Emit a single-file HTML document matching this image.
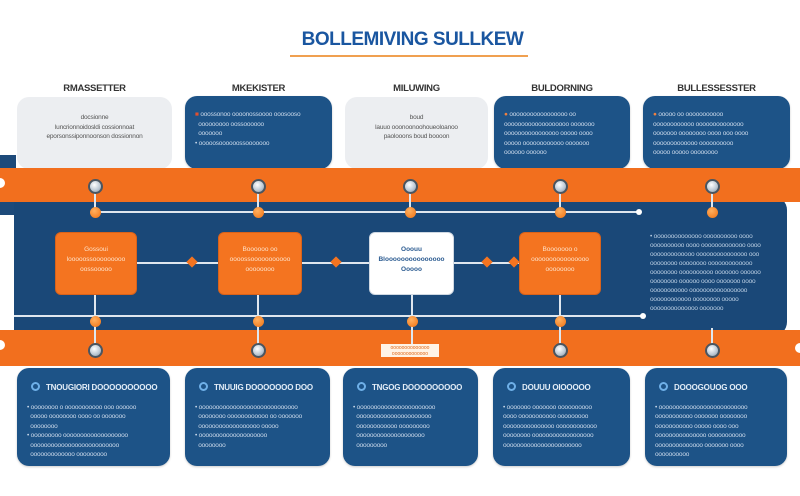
<!DOCTYPE html>
<html><head><meta charset="utf-8"><style>
*{margin:0;padding:0;box-sizing:border-box}
body{width:800px;height:496px;background:#fff;position:relative;overflow:hidden;font-family:"Liberation Sans",sans-serif}
.a{position:absolute}
.card{position:absolute;border-radius:12px;padding:8px 10px;font-size:6.5px;line-height:9.5px;letter-spacing:-0.2px}
.lt{background:#eceef1;color:#555;text-align:center;padding-top:16px}
.bl{background:#1d5387;color:#c9d8ea;box-shadow:0 1px 2px rgba(0,0,0,.2)}
.hd{position:absolute;font-size:9.5px;font-weight:bold;color:#333;text-align:center;letter-spacing:-0.3px}
.knob{position:absolute;width:15px;height:15px;border-radius:50%;background:radial-gradient(circle at 40% 35%,#fff,#b9c6d2 60%,#7a8794);border:2px solid #4a5560;margin:-7px 0 0 -7px}
.dot{position:absolute;width:11px;height:11px;border-radius:50%;background:radial-gradient(circle at 40% 35%,#ffb060,#f07010);margin:-5px 0 0 -5px}
.vl{position:absolute;width:2px;background:#dfe7ef;margin-left:-1px}
.hl{position:absolute;height:2px;background:#dfe7ef}
.box{position:absolute;border-radius:6px;font-size:6.5px;line-height:10px;text-align:center;padding-top:12px}
.ob{background:#f47420;color:#ffe2c8;border:1px solid #d9621a}
.bt{font-size:8px;font-weight:bold;color:#e3edf7;margin:6px 0 10px 4px;white-space:nowrap}
.bt b{display:inline-block;width:9px;height:9px;border-radius:50%;border:2px solid #6fb0e8;vertical-align:-1px;margin-right:6px}
</style></head><body>
<div class="a" style="left:300px;top:29px;width:225px;text-align:center;font-size:19px;font-weight:bold;color:#1a56a0;letter-spacing:-0.5px">BOLLEMIVING SULLKEW</div>
<div class="a" style="left:290px;top:55px;width:238px;height:2px;background:#f0a050"></div>

<div class="hd" style="left:17px;top:83px;width:155px">RMASSETTER</div>
<div class="hd" style="left:185px;top:83px;width:147px">MKEKISTER</div>
<div class="hd" style="left:345px;top:83px;width:143px">MILUWING</div>
<div class="hd" style="left:494px;top:83px;width:136px">BULDORNING</div>
<div class="hd" style="left:643px;top:83px;width:147px">BULLESSESSTER</div>

<div class="a" style="left:0;top:155px;width:16px;height:60px;background:#1d4a7a"></div>
<div class="card lt" style="left:17px;top:97px;width:155px;height:72px">docsionne<br>luncrionnoidosldi cossionnoat<br>eporsonssiponnoonson dossionnon</div>
<div class="card bl" style="left:185px;top:96px;width:147px;height:73px;padding-top:14px"><span style="color:#e05030">■</span> ooossonoo oooonossoooo ooosooso<br>&nbsp; ooooooooo oossoooooo<br>&nbsp; ooooooo<br>• ooooosoooooossooooooo</div>
<div class="card lt" style="left:345px;top:97px;width:143px;height:72px">boud<br>lauuo ooonoonoohoueoloanoo<br>paolooons boud boooon</div>
<div class="card bl" style="left:494px;top:96px;width:136px;height:73px;padding-top:14px"><span style="color:#f08040">●</span> ooooooooooooooooo oo<br>ooooooooooooooooooo ooooooo<br>oooooooooooooooo ooooo oooo<br>ooooo oooooooooooo ooooooo<br>oooooo oooooo</div>
<div class="card bl" style="left:643px;top:96px;width:147px;height:73px;padding-top:14px"><span style="color:#f08040">●</span> ooooo oo ooooooooooo<br>oooooooooooo oooooooooooooo<br>ooooooo oooooooo oooo ooo oooo<br>ooooooooooooo oooooooooo<br>ooooo ooooo oooooooo</div>

<div class="a" style="left:14px;top:196px;width:773px;height:140px;background:#1a4878;border-radius:0 14px 14px 0"></div>
<div class="a" style="left:0;top:168px;width:800px;height:34px;background:#f26f1e"></div>
<div class="a" style="left:0;top:330px;width:800px;height:36px;background:#f26f1e"></div>

<div class="hl" style="left:95px;top:211px;width:543px"></div>
<div class="a" style="left:636px;top:209px;width:6px;height:6px;border-radius:50%;background:#fff"></div>
<div class="hl" style="left:14px;top:315px;width:630px"></div>
<div class="a" style="left:640px;top:313px;width:6px;height:6px;border-radius:50%;background:#fff"></div>
<div class="hl" style="left:137px;top:262px;width:82px"></div>
<div class="hl" style="left:302px;top:262px;width:68px"></div>
<div class="hl" style="left:453px;top:262px;width:67px"></div>

<div class="vl" style="left:95px;top:186px;height:26px"></div>
<div class="vl" style="left:258px;top:186px;height:26px"></div>
<div class="vl" style="left:410px;top:186px;height:26px"></div>
<div class="vl" style="left:560px;top:186px;height:26px"></div>
<div class="vl" style="left:712px;top:186px;height:26px"></div>
<div class="vl" style="left:95px;top:295px;height:55px"></div>
<div class="vl" style="left:258px;top:295px;height:55px"></div>
<div class="vl" style="left:412px;top:295px;height:55px"></div>
<div class="vl" style="left:560px;top:295px;height:55px"></div>
<div class="vl" style="left:712px;top:328px;height:22px"></div>

<div class="box ob" style="left:55px;top:232px;width:82px;height:63px">Gossoui<br>looooossooooooooo<br>oossooooo</div>
<div class="box ob" style="left:218px;top:232px;width:84px;height:63px">Boooooo oo<br>oooossooooooooooo<br>oooooooo</div>
<div class="box" style="left:369px;top:232px;width:85px;height:63px;background:#fff;color:#2a5a90;border:1px solid #cfd8e2;font-weight:bold">Ooouu<br>Blooooooooooooooo<br>Ooooo</div>
<div class="box ob" style="left:519px;top:232px;width:82px;height:63px">Booooooo o<br>oooooooooooooooo<br>oooooooo</div>

<div class="a" style="left:188px;top:258px;width:8px;height:8px;background:#f47420;transform:rotate(45deg)"></div>
<div class="a" style="left:332px;top:258px;width:8px;height:8px;background:#f47420;transform:rotate(45deg)"></div>
<div class="a" style="left:483px;top:258px;width:8px;height:8px;background:#f47420;transform:rotate(45deg)"></div>
<div class="a" style="left:510px;top:258px;width:8px;height:8px;background:#f47420;transform:rotate(45deg)"></div>

<div class="a" style="left:650px;top:232px;width:130px;font-size:6.5px;line-height:9px;color:#b9cde2;letter-spacing:-0.2px">• oooooooooooooo oooooooooo oooo<br>oooooooooo oooo ooooooooooooo oooo<br>ooooooooooooo ooooooooooooooo ooo<br>oooooooo oooooooo ooooooooooooo<br>oooooooo oooooooooo ooooooo oooooo<br>oooooooo oooooo oooo ooooooo oooo<br>ooooooooooo ooooooooooooooooo<br>oooooooooooo oooooooo ooooo<br>oooooooooooooo ooooooo</div>

<div class="dot" style="left:95px;top:212px"></div><div class="dot" style="left:258px;top:212px"></div><div class="dot" style="left:410px;top:212px"></div><div class="dot" style="left:560px;top:212px"></div><div class="dot" style="left:712px;top:212px"></div>
<div class="dot" style="left:95px;top:321px"></div><div class="dot" style="left:258px;top:321px"></div><div class="dot" style="left:412px;top:321px"></div><div class="dot" style="left:560px;top:321px"></div>

<div class="knob" style="left:95px;top:186px"></div><div class="knob" style="left:258px;top:186px"></div><div class="knob" style="left:410px;top:186px"></div><div class="knob" style="left:560px;top:186px"></div><div class="knob" style="left:712px;top:186px"></div>
<div class="knob" style="left:95px;top:350px"></div><div class="knob" style="left:258px;top:350px"></div><div class="knob" style="left:560px;top:350px"></div><div class="knob" style="left:712px;top:350px"></div>
<div class="a" style="left:0;top:178px;width:5px;height:10px;border-radius:0 5px 5px 0;background:#fff"></div>
<div class="a" style="left:0;top:340px;width:5px;height:10px;border-radius:0 5px 5px 0;background:#fff"></div>
<div class="a" style="left:795px;top:343px;width:5px;height:10px;border-radius:5px 0 0 5px;background:#fff"></div>

<div class="a" style="left:381px;top:344px;width:58px;height:13px;background:#fff3e6;color:#e06818;font-size:5px;line-height:6px;text-align:center;padding-top:1px">oooooooooooooo<br>ooooooooooooo</div>

<div class="card bl" style="left:17px;top:368px;width:153px;height:98px"><div class="bt"><b></b>TNOUGIORI DOOOOOOOOOO</div>• oooooooo o ooooooooooo ooo oooooo<br>&nbsp; ooooo oooooooo oooo oo ooooooo<br>&nbsp; oooooooo<br>• ooooooooo ooooooooooooooooooo<br>&nbsp; oooooooooooooooooooooooooo<br>&nbsp; ooooooooooooo ooooooooo</div>
<div class="card bl" style="left:185px;top:368px;width:145px;height:98px"><div class="bt"><b></b>TNUUIG DOOOOOOO DOO</div>• ooooooooooooooooooooooooooooo<br>&nbsp; oooooooo oooooooooooo oo ooooooo<br>&nbsp; oooooooooooooooooo ooooo<br>• oooooooooooooooooooo<br>&nbsp; oooooooo</div>
<div class="card bl" style="left:343px;top:368px;width:135px;height:98px"><div class="bt"><b></b>TNGOG DOOOOOOOOO</div>• ooooooooooooooooooooooo<br>&nbsp; oooooooooooooooooooooo<br>&nbsp; oooooooooooo ooooooooo<br>&nbsp; oooooooooooooooooooo<br>&nbsp; ooooooooo</div>
<div class="card bl" style="left:493px;top:368px;width:137px;height:98px"><div class="bt"><b></b>DOUUU OIOOOOO</div>• ooooooo ooooooo oooooooooo<br>oooo ooooooooooo ooooooooo<br>ooooooooooooooo oooooooooooo<br>oooooooo oooooooooooooooooo<br>ooooooooooooooooooooooo</div>
<div class="card bl" style="left:645px;top:368px;width:142px;height:98px"><div class="bt"><b></b>DOOOGOUOG OOO</div>• oooooooooooooooooooooooooo<br>ooooooooooo ooooooo oooooooo<br>ooooooooooo ooooo oooo ooo<br>ooooooooooooooo ooooooooooo<br>oooooooooooooo ooooooo oooo<br>oooooooooo</div>
</body></html>
